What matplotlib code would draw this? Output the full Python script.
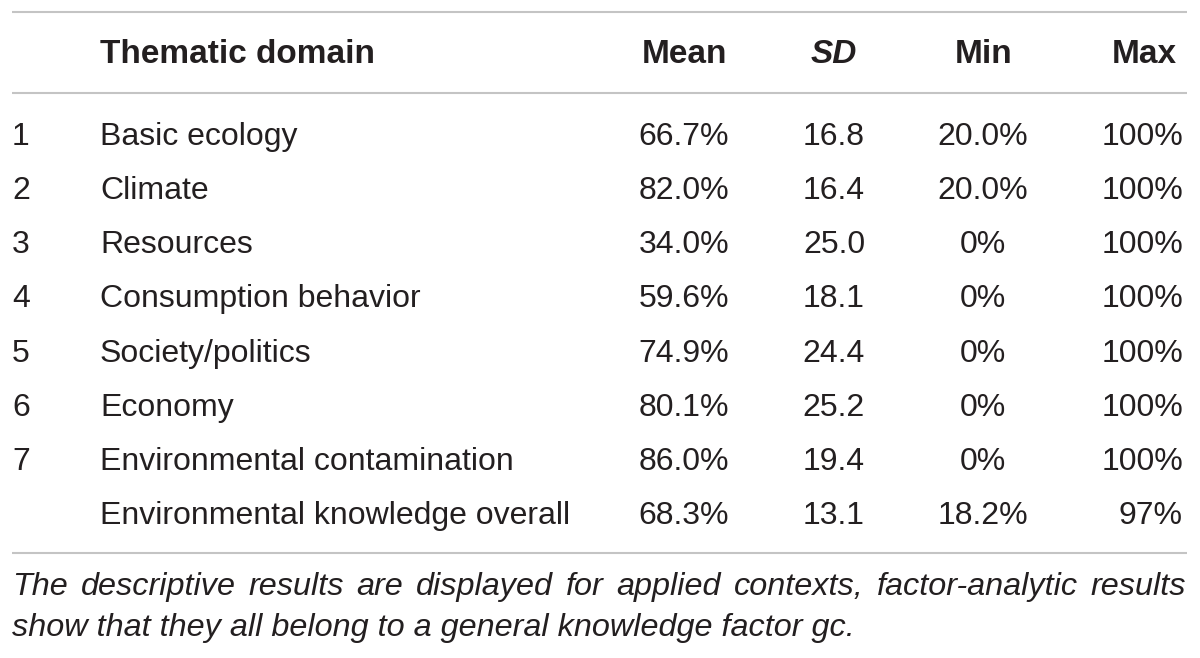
import matplotlib
matplotlib.use("Agg")
import matplotlib.pyplot as plt

# ---- data ----
row_numbers = ["1", "2", "3", "4", "5", "6", "7", ""]
domains = ["Basic ecology", "Climate", "Resources", "Consumption behavior",
           "Society/politics", "Economy", "Environmental contamination",
           "Environmental knowledge overall"]
means = ["66.7%", "82.0%", "34.0%", "59.6%", "74.9%", "80.1%", "86.0%", "68.3%"]
sds = ["16.8", "16.4", "25.0", "18.1", "24.4", "25.2", "19.4", "13.1"]
mins = ["20.0%", "20.0%", "0%", "0%", "0%", "0%", "0%", "18.2%"]
maxs = ["100%", "100%", "100%", "100%", "100%", "100%", "100%", "97%"]
headers = ["Thematic domain", "Mean", "SD", "Min", "Max"]
footnote_lines = [
    "The descriptive results are displayed for applied contexts, factor-analytic results",
    "show that they all belong to a general knowledge factor gc.",
]

W, H = 1200, 658
fig = plt.figure(figsize=(W / 100, H / 100), dpi=100)
ax = fig.add_axes([0, 0, 1, 1])
ax.set_xlim(0, W)
ax.set_ylim(H, 0)
ax.axis("off")

FONT = "Liberation Sans"
FS = 23.0
HFS = 24
TC = "#231f20"
LC = "#c4c4c4"

x_left, x_right = 12, 1187
for y in (12, 93, 553):
    ax.plot([x_left, x_right], [y, y], color=LC, lw=1.5, solid_capstyle="butt")

# header
hb = 63
hkw = dict(fontfamily=FONT, fontsize=HFS, fontweight="bold", color=TC, va="baseline")
ax.text(100, hb, headers[0], ha="left", **hkw)
ax.text(685, hb, headers[1], ha="center", **hkw)
ax.text(834, hb, headers[2], ha="center", fontstyle="italic", **hkw)
ax.text(984, hb, headers[3], ha="center", **hkw)
ax.text(1177, hb, headers[4], ha="right", **hkw)

# body rows
b0, step = 145, 54.15
for i in range(len(domains)):
    yb = b0 + step * i
    kw = dict(fontfamily=FONT, fontsize=FS, color=TC, va="baseline")
    ax.text(12, yb, row_numbers[i], ha="left", **kw)
    ax.text(100, yb, domains[i], ha="left", **kw)
    ax.text(684, yb, means[i], ha="center", **kw)
    ax.text(834, yb, sds[i], ha="center", **kw)
    ax.text(983, yb, mins[i], ha="center", **kw)
    ax.text(1183, yb, maxs[i], ha="right", **kw)

# footnote (first line justified)
renderer = fig.canvas.get_renderer()
FFS = 23.3
fkw = dict(fontfamily=FONT, fontsize=FFS, fontstyle="italic", color=TC,
           va="baseline", ha="left")
fb = [595, 636]
words = footnote_lines[0].split(" ")
widths = []
for w in words:
    t = ax.text(0, 0, w, **fkw)
    bb = t.get_window_extent(renderer)
    widths.append(bb.width)
    t.remove()
gap = (x_right - 1 - x_left - sum(widths)) / (len(words) - 1)
x = x_left
for w, wd in zip(words, widths):
    ax.text(x, fb[0], w, **fkw)
    x += wd + gap
ax.text(x_left, fb[1], footnote_lines[1], **fkw)

fig.savefig("out.png", dpi=100, facecolor="white")
